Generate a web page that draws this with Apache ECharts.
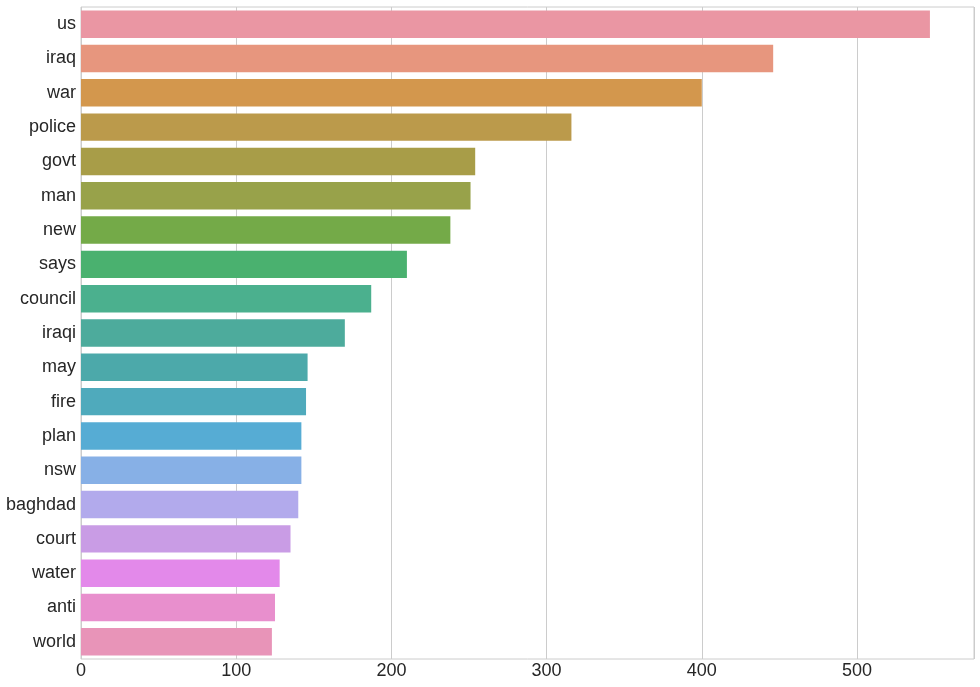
<!DOCTYPE html>
<html><head><meta charset="utf-8">
<script src="https://cdn.jsdelivr.net/npm/echarts@6/dist/echarts.min.js"></script>
<style>html,body{margin:0;padding:0;background:#fff}#c{width:980px;height:687px}</style>
</head><body><div id="c"></div>
<script>
const categories = ["us","iraq","war","police","govt","man","new","says","council","iraqi","may","fire","plan","nsw","baghdad","court","water","anti","world"];
const counts = [547,446,400,316,254,251,238,210,187,170,146,145,142,142,140,135,128,125,123];
const colors = ["#EA96A3","#E7967E","#D3974D","#BB9A4B","#A89D48","#98A24A","#74AA48","#4AB16F","#4BB08E","#4DAB9C","#4CA9AA","#4FAABC","#56ACD4","#87B0E6","#B2AAEC","#C99CE5","#E389EA","#E88FCD","#E894B8"];
const xTicks = [0,100,200,300,400,500];

const chart = echarts.init(document.getElementById('c'));
chart.setOption({
  animation:false,
  grid:{left:81,right:6,top:7,bottom:28,show:true,borderColor:'#cccccc',borderWidth:1,containLabel:false},
  xAxis:{type:'value',min:0,max:575.4,interval:100,
    axisLine:{show:false},axisTick:{show:false},
    splitLine:{show:true,lineStyle:{color:'#cccccc',width:1}},
    axisLabel:{fontFamily:'Liberation Sans',fontSize:18,color:'#262626',margin:3,
      formatter:v=>xTicks.includes(v)?String(v):''}},
  yAxis:{type:'category',data:categories,inverse:true,
    axisLine:{show:false},axisTick:{show:false},splitLine:{show:false},
    axisLabel:{fontFamily:'Liberation Sans',fontSize:18,color:'#262626',margin:5,padding:[4,0,0,0]}},
  series:[{type:'bar',barCategoryGap:'20%',
    data:counts.map((v,i)=>({value:v,itemStyle:{color:colors[i]}}))}]
});
</script></body></html>
